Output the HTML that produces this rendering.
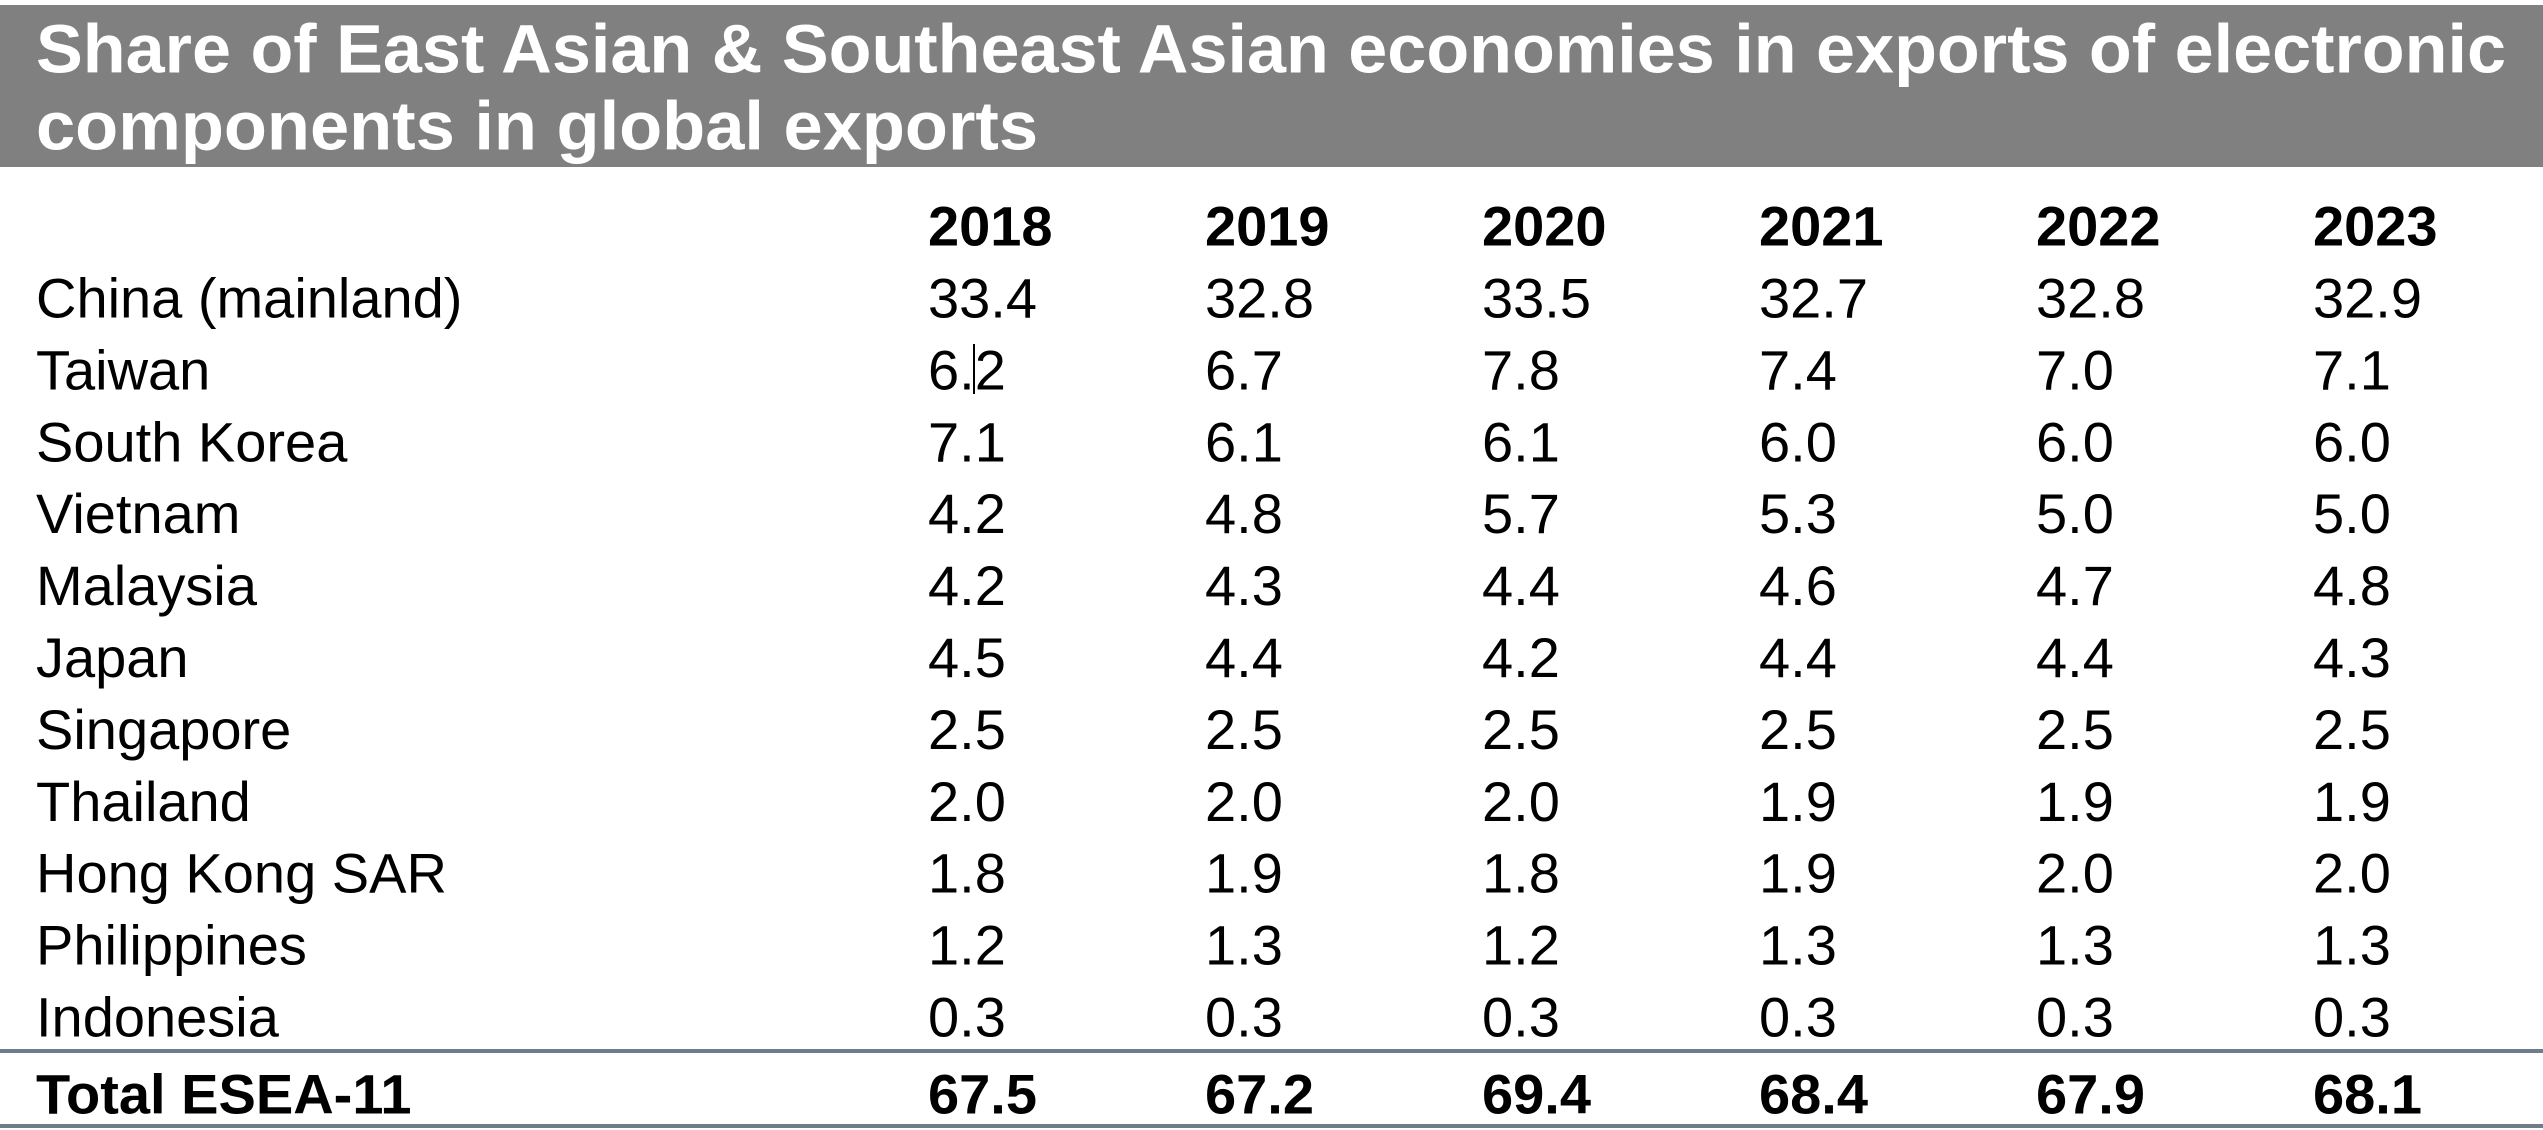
<!DOCTYPE html>
<html><head><meta charset="utf-8"><style>
html,body{margin:0;padding:0;background:#fff;}
svg{display:block;font-family:"Liberation Sans",Arial,sans-serif;}
</style></head><body>
<svg id="t" width="2543" height="1130" viewBox="0 0 2543 1130">
<rect x="0" y="5" width="2543" height="162" fill="#808080"/>
<text x="36" y="49" dominant-baseline="central" font-size="69" font-weight="bold" fill="#fff" textLength="2470" lengthAdjust="spacingAndGlyphs">Share of East Asian &amp; Southeast Asian economies in exports of electronic</text>
<text x="36" y="126" dominant-baseline="central" font-size="69" font-weight="bold" fill="#fff" textLength="1002" lengthAdjust="spacingAndGlyphs">components in global exports</text>
<g id="body"></g>
<rect x="973" y="344" width="2" height="50" fill="#000"/>
</svg>
<script>
const years = ["2018","2019","2020","2021","2022","2023"];
const countries = ["China (mainland)","Taiwan","South Korea","Vietnam","Malaysia","Japan","Singapore","Thailand","Hong Kong SAR","Philippines","Indonesia"];
const china = [33.4,32.8,33.5,32.7,32.8,32.9];
const taiwan = [6.2,6.7,7.8,7.4,7.0,7.1];
const korea = [7.1,6.1,6.1,6.0,6.0,6.0];
const vietnam = [4.2,4.8,5.7,5.3,5.0,5.0];
const malaysia = [4.2,4.3,4.4,4.6,4.7,4.8];
const japan = [4.5,4.4,4.2,4.4,4.4,4.3];
const singapore = [2.5,2.5,2.5,2.5,2.5,2.5];
const thailand = [2.0,2.0,2.0,1.9,1.9,1.9];
const hongkong = [1.8,1.9,1.8,1.9,2.0,2.0];
const philippines = [1.2,1.3,1.2,1.3,1.3,1.3];
const indonesia = [0.3,0.3,0.3,0.3,0.3,0.3];
const totals = [67.5,67.2,69.4,68.4,67.9,68.1];
const rows = [china,taiwan,korea,vietnam,malaysia,japan,singapore,thailand,hongkong,philippines,indonesia];

const NS="http://www.w3.org/2000/svg";
const g=document.getElementById('body');
const colX=i=>928+i*277;
const rowY=i=>298+i*71.9;
function txt(x,y,s,bold){const t=document.createElementNS(NS,'text');t.setAttribute('x',x);t.setAttribute('y',y);t.setAttribute('dominant-baseline','central');t.setAttribute('font-size',bold?56:56);if(bold)t.setAttribute('font-weight','bold');t.setAttribute('fill','#000');t.textContent=s;g.appendChild(t);return t;}
years.forEach((y,i)=>{const t=txt(colX(i),226,y,true);

});
countries.forEach((c,r)=>{const t=txt(36,rowY(r),c,false);


rows[r].forEach((v,i)=>{const e=txt(colX(i),rowY(r),v.toFixed(1),false);

});});
function line(y){const l=document.createElementNS(NS,'rect');l.setAttribute('x',0);l.setAttribute('y',y);l.setAttribute('width',2543);l.setAttribute('height',4);l.setAttribute('fill','#6f7d8a');g.appendChild(l);return l;}
const l1=line(1049);


const tl=txt(36,1094,'Total ESEA-11',true);


totals.forEach((v,i)=>{const e=txt(colX(i),1094,v.toFixed(1),true);

});
const l2=line(1124);


</script>
</body></html>
